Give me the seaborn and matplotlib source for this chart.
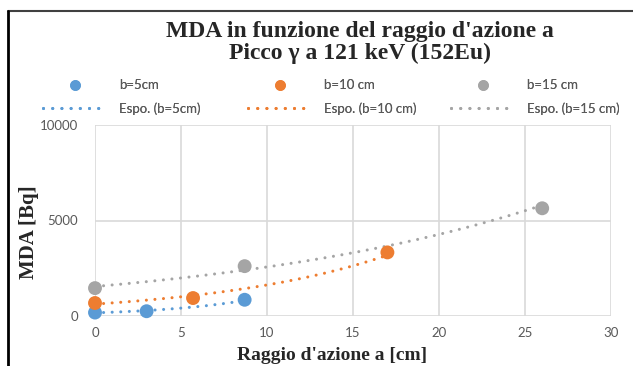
import numpy as np
import pandas as pd
import matplotlib
matplotlib.use("Agg")
from matplotlib import pyplot as plt
from matplotlib.lines import Line2D
import seaborn as sns

# valori
series_names = ["b=5cm", "b=10 cm", "b=15 cm"]
fit_names = ["Espo. (b=5cm)", "Espo. (b=10 cm)", "Espo. (b=15 cm)"]
x_b5 = [0, 3.0, 8.7]
y_b5 = [180, 250, 850]
x_b10 = [0, 5.7, 17.0]
y_b10 = [680, 940, 3330]
x_b15 = [0, 8.7, 26.0]
y_b15 = [1460, 2610, 5640]
colors = ["#5B9BD5", "#ED7D31", "#A5A5A5"]

xs = [x_b5, x_b10, x_b15]
ys = [y_b5, y_b10, y_b15]

df = pd.concat([pd.DataFrame({"a": x, "MDA": y, "serie": n})
                for x, y, n in zip(xs, ys, series_names)], ignore_index=True)

# trendline esponenziale come in Excel (fit lineare su ln y)
fit_rows = []
for x, y, n in zip(xs, ys, fit_names):
    b, lna = np.polyfit(x, np.log(y), 1)
    xx = np.linspace(min(x), max(x), 200)
    fit_rows.append(pd.DataFrame({"a": xx, "MDA": np.exp(lna) * np.exp(b * xx), "serie": n}))
fit_df = pd.concat(fit_rows, ignore_index=True)

sns.set_theme(style="white")
plt.rcParams["font.family"] = ["Lato", "DejaVu Sans"]

W, H = 633, 366
fig = plt.figure(figsize=(W / 100, H / 100), dpi=100)
ax = fig.add_axes([95 / W, 1 - 316 / H, (611 - 95) / W, (316 - 125) / H])

dots = (0, (0.01, 2.8))
sns.lineplot(data=fit_df, x="a", y="MDA", hue="serie", palette=colors, ax=ax,
             linewidth=2.2, legend=False, zorder=2, sort=False)
for line in ax.lines:
    line.set_linestyle(dots)
    line.set_dash_capstyle("round")
sns.scatterplot(data=df, x="a", y="MDA", hue="serie", palette=colors, ax=ax,
                s=100, edgecolor="none", legend=False, zorder=3, clip_on=False)

ax.set_xlim(0, 30)
ax.set_ylim(0, 10000)
ax.set_xticks(range(0, 31, 5))
ax.set_yticks([0, 5000, 10000])
ax.grid(True, color="#d9d9d9", linewidth=1.2)
ax.set_axisbelow(True)
for s in ax.spines.values():
    s.set_visible(False)
ax.tick_params(axis="both", length=0, labelsize=9.5, labelcolor="#595959")
ax.tick_params(axis="x", pad=8)
ax.tick_params(axis="y", pad=12)
ax.set_xlabel("")
ax.set_ylabel("")

serif = ["Liberation Serif", "DejaVu Serif"]
fig.text(360 / W, 1 - 31 / H, "MDA in funzione del raggio d'azione a",
         ha="center", va="center", family=serif, fontweight="bold", fontsize=17)
fig.text(360 / W, 1 - 53 / H, "Picco γ a 121 keV (152Eu)",
         ha="center", va="center", family=serif, fontweight="bold", fontsize=17)
fig.text(332 / W, 1 - 355 / H, "Raggio d'azione a [cm]",
         ha="center", va="center", family=serif, fontweight="bold", fontsize=14)
fig.text(29 / W, 1 - 232 / H, "MDA [Bq]", rotation=90,
         ha="center", va="center", family=serif, fontweight="bold", fontsize=15)

# legenda: tre colonne a passo fisso come in Excel
for c, n, fn, x0 in zip(colors, series_names, fit_names, [43, 248, 451]):
    hs = [Line2D([], [], marker="o", linestyle="none", color=c, markersize=6.7, label=n),
          Line2D([], [], color=c, linewidth=2.2, linestyle=(0, (0.01, 3.0)),
                 dash_capstyle="round", label=fn)]
    leg = fig.legend(handles=hs, loc="center left",
                     bbox_to_anchor=(x0 / W, 1 - 97 / H), frameon=False,
                     fontsize=9.5, handlelength=4.85, handletextpad=0.9,
                     labelspacing=0.8, borderpad=0, borderaxespad=0)
    for t in leg.get_texts():
        t.set_color("#595959")
    fig.add_artist(leg)

# cornice del grafico
fig.add_artist(Line2D([8 / W, 1], [1 - 11 / H, 1 - 11 / H], color="#404040", linewidth=1.5))
fig.add_artist(Line2D([8 / W, 8 / W], [0, 1 - 11 / H], color="black", linewidth=2))

fig.savefig("out.png", dpi=100)
